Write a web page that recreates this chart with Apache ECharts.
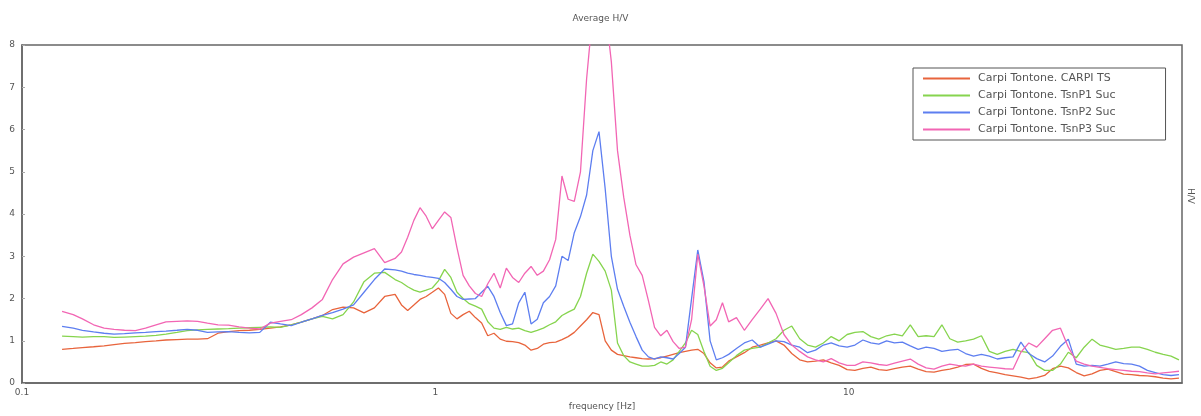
<!DOCTYPE html>
<html>
<head>
<meta charset="utf-8">
<title>Average H/V</title>
<script src="https://cdn.jsdelivr.net/npm/echarts@6/dist/echarts.min.js"></script>
<style>
  html, body { margin: 0; padding: 0; background: #ffffff; }
  #chart { width: 1201px; height: 416px; }
</style>
</head>
<body>
<div id="chart"></div>
<script>
// Frequency samples [Hz]
const freq = [
  0.125,0.133,0.140,0.149,0.158,0.167,0.177,0.188,0.199,0.211,0.223,0.237,0.251,0.266,0.281,0.298,0.316,0.335,0.355,0.376,0.399,0.422,0.448,0.474,0.503,0.533,0.564,0.598,0.634,0.672,0.712,0.754,0.799,
  0.828,0.857,0.887,0.918,0.95,0.983,1.017,1.053,1.09,1.128,1.167,1.208,1.25,1.294,1.339,1.386,1.435,1.485,1.537,1.591,1.646,1.704,1.764,1.825,1.889,1.955,2.024,2.095,2.168,2.244,2.322,2.404,2.488,2.575,2.665,2.758,2.855,2.955,3.058,3.165,3.276,3.39,3.509,3.632,3.759,3.89,4.027,4.167,4.313,4.464,4.62,4.782,4.949,5.122,
  5.35,5.59,5.84,6.11,6.38,6.67,6.97,7.28,7.61,7.95,8.31,8.68,9.07,9.48,9.91,10.35,10.82,11.31,11.82,12.35,12.90,13.48,14.09,14.72,15.39,16.08,16.80,17.56,18.35,19.17,20.04,20.94,21.88,22.87,23.89,24.97,26.09,27.27,28.49,29.78,31.12,32.52,33.98,35.51,37.11,38.78,40.52,42.35,44.25,46.24,48.33,50.50,52.77,55.15,57.63,60.22,62.93
];

// H/V ratio per station
const hvCarpiTS = [
  0.80,0.82,0.84,0.86,0.88,0.91,0.94,0.96,0.98,1.00,1.02,1.03,1.04,1.04,1.05,1.18,1.22,1.24,1.25,1.27,1.30,1.33,1.38,1.44,1.52,1.60,1.74,1.80,1.78,1.66,1.78,2.05,2.10,
  1.85,1.72,1.85,1.98,2.05,2.15,2.25,2.10,1.65,1.52,1.62,1.70,1.55,1.42,1.12,1.18,1.04,0.99,0.98,0.96,0.90,0.78,0.82,0.92,0.96,0.97,1.03,1.10,1.20,1.35,1.50,1.67,1.62,1.00,0.78,0.68,0.65,0.62,0.60,0.58,0.57,0.58,0.60,0.64,0.68,0.72,0.75,0.78,0.80,0.70,0.48,0.36,0.38,0.52,
  0.62,0.72,0.85,0.90,0.95,1.00,0.90,0.70,0.55,0.50,0.52,0.55,0.48,0.42,0.32,0.30,0.35,0.38,0.32,0.30,0.34,0.38,0.40,0.33,0.27,0.26,0.30,0.33,0.38,0.44,0.45,0.35,0.28,0.24,0.20,0.17,0.14,0.10,0.13,0.18,0.34,0.40,0.36,0.25,0.17,0.22,0.30,0.33,0.27,0.21,0.20,0.18,0.17,0.15,0.12,0.10,0.12
];
const hvTsnP1 = [
  1.11,1.10,1.09,1.10,1.10,1.08,1.09,1.10,1.11,1.13,1.16,1.20,1.24,1.26,1.27,1.28,1.29,1.30,1.31,1.32,1.33,1.32,1.38,1.44,1.52,1.58,1.52,1.62,1.92,2.40,2.60,2.62,2.45,
  2.38,2.28,2.20,2.15,2.20,2.25,2.42,2.69,2.50,2.15,2.00,1.88,1.82,1.75,1.45,1.30,1.27,1.32,1.28,1.30,1.24,1.20,1.25,1.30,1.38,1.45,1.60,1.68,1.75,2.05,2.60,3.05,2.88,2.65,2.20,0.95,0.65,0.50,0.45,0.40,0.40,0.42,0.50,0.45,0.55,0.75,0.95,1.25,1.15,0.75,0.40,0.30,0.35,0.48,
  0.65,0.78,0.82,0.85,0.95,1.05,1.25,1.35,1.05,0.90,0.85,0.95,1.10,1.00,1.15,1.20,1.22,1.10,1.04,1.12,1.16,1.12,1.38,1.10,1.12,1.10,1.38,1.05,0.97,1.00,1.04,1.12,0.75,0.68,0.75,0.80,0.75,0.72,0.42,0.30,0.30,0.45,0.73,0.60,0.85,1.04,0.90,0.85,0.80,0.82,0.85,0.85,0.80,0.73,0.68,0.64,0.55
];
const hvTsnP2 = [
  1.34,1.30,1.25,1.21,1.18,1.16,1.17,1.19,1.20,1.22,1.23,1.25,1.27,1.25,1.20,1.21,1.22,1.20,1.19,1.20,1.44,1.40,1.36,1.44,1.52,1.60,1.67,1.75,1.85,2.15,2.45,2.70,2.68,
  2.65,2.60,2.57,2.55,2.52,2.50,2.48,2.38,2.22,2.05,1.98,1.99,2.00,2.15,2.29,2.05,1.67,1.36,1.40,1.90,2.15,1.40,1.51,1.90,2.05,2.30,3.00,2.90,3.56,3.94,4.45,5.50,5.95,4.60,3.00,2.22,1.82,1.44,1.10,0.78,0.62,0.57,0.62,0.60,0.57,0.70,0.85,2.00,3.15,2.40,1.00,0.55,0.60,0.68,
  0.82,0.95,1.02,0.85,0.92,1.00,0.98,0.90,0.85,0.72,0.78,0.90,0.95,0.88,0.85,0.90,1.02,0.95,0.92,1.00,0.95,0.97,0.88,0.80,0.85,0.82,0.75,0.78,0.80,0.70,0.64,0.68,0.64,0.57,0.60,0.62,0.97,0.70,0.58,0.50,0.64,0.87,1.04,0.45,0.40,0.42,0.40,0.45,0.50,0.46,0.45,0.40,0.30,0.25,0.20,0.18,0.20
];
const hvTsnP3 = [
  1.70,1.62,1.52,1.38,1.30,1.27,1.25,1.24,1.30,1.38,1.45,1.46,1.47,1.46,1.42,1.38,1.37,1.33,1.30,1.28,1.42,1.46,1.50,1.62,1.78,1.98,2.45,2.82,2.98,3.08,3.18,2.85,2.95,
  3.10,3.45,3.85,4.15,3.95,3.65,3.85,4.05,3.92,3.20,2.55,2.30,2.12,2.05,2.35,2.60,2.25,2.72,2.50,2.38,2.60,2.76,2.55,2.65,2.92,3.40,4.90,4.35,4.30,5.00,7.20,8.80,9.20,8.90,7.60,5.50,4.40,3.50,2.80,2.55,1.95,1.32,1.12,1.25,0.98,0.82,0.85,1.50,3.05,2.30,1.35,1.50,1.90,1.45,
  1.55,1.25,1.50,1.75,2.00,1.65,1.15,0.90,0.75,0.62,0.55,0.50,0.58,0.48,0.42,0.42,0.50,0.48,0.44,0.42,0.47,0.52,0.57,0.45,0.36,0.33,0.40,0.45,0.42,0.40,0.45,0.40,0.38,0.36,0.34,0.33,0.73,0.95,0.85,1.05,1.25,1.30,0.85,0.52,0.45,0.40,0.37,0.34,0.32,0.30,0.28,0.27,0.24,0.22,0.24,0.26,0.28
];

const seriesNames = [
  'Carpi Tontone. CARPI TS',
  'Carpi Tontone. TsnP1 Suc',
  'Carpi Tontone. TsnP2 Suc',
  'Carpi Tontone. TsnP3 Suc'
];
const seriesValues = [hvCarpiTS, hvTsnP1, hvTsnP2, hvTsnP3];
const seriesColors = ['#e8643c', '#86d44e', '#5d7ef0', '#f266b4'];

const yTicks = [0, 1, 2, 3, 4, 5, 6, 7, 8];
const xTickLabels = { 0.1: '0.1', 1: '1', 10: '10' };

const axisColor = '#666666';
const textColor = '#555555';
const fontFamily = 'DejaVu Sans, Liberation Sans, sans-serif';

const chart = echarts.init(document.getElementById('chart'), null, { renderer: 'canvas' });

chart.setOption({
  animation: false,
  backgroundColor: '#ffffff',
  title: {
    text: 'Average H/V',
    left: 'center',
    top: 9,
    textStyle: { fontSize: 9, fontWeight: 'normal', color: textColor, fontFamily }
  },
  legend: {
    orient: 'vertical',
    left: 913,
    top: 68,
    padding: [5, 50, 5, 10],
    itemGap: 6,
    itemWidth: 47,
    itemHeight: 2,
    icon: 'rect',
    backgroundColor: '#ffffff',
    borderColor: '#555555',
    borderWidth: 1,
    borderRadius: 0,
    textStyle: { fontSize: 11, color: textColor, fontFamily, padding: [0, 0, 0, 3] },
    data: seriesNames
  },
  grid: {
    left: 22,
    right: 19,
    top: 45,
    bottom: 32,
    show: true,
    borderColor: axisColor,
    borderWidth: 1.5,
    containLabel: false
  },
  xAxis: {
    type: 'log',
    logBase: 10,
    min: 0.1,
    max: 64,
    name: 'frequency [Hz]',
    nameLocation: 'middle',
    nameGap: 17,
    nameTextStyle: { fontSize: 9, color: textColor, fontFamily },
    axisLine: { show: true, lineStyle: { color: axisColor, width: 1.5 } },
    axisTick: { show: false },
    splitLine: { show: false },
    minorTick: { show: false },
    axisLabel: {
      fontSize: 9,
      color: textColor,
      fontFamily,
      margin: 5,
      showMaxLabel: false,
      formatter: v => xTickLabels[v] !== undefined ? xTickLabels[v] : (Math.abs(v - 0.1) < 1e-9 ? '0.1' : '')
    }
  },
  yAxis: {
    type: 'value',
    min: yTicks[0],
    max: yTicks[yTicks.length - 1],
    interval: 1,
    axisLine: { show: true, lineStyle: { color: axisColor, width: 1.5 } },
    axisTick: { show: true, inside: true, length: 3, lineStyle: { color: '#aaaaaa' } },
    splitLine: { show: false },
    axisLabel: { fontSize: 9, color: textColor, fontFamily, margin: 7 }
  },
  graphic: [{
    type: 'text',
    left: 1186,
    top: 188,
    rotation: -Math.PI / 2,
    style: { text: 'H/V', fontSize: 9, fill: textColor, fontFamily }
  }],
  series: seriesNames.map((name, i) => ({
    name,
    type: 'line',
    data: freq.map((f, j) => [f, seriesValues[i][j]]),
    showSymbol: false,
    symbol: 'none',
    clip: true,
    lineStyle: { width: 1.3, color: seriesColors[i] },
    itemStyle: { color: seriesColors[i] },
    z: 2 + i
  }))
});
</script>
</body>
</html>
